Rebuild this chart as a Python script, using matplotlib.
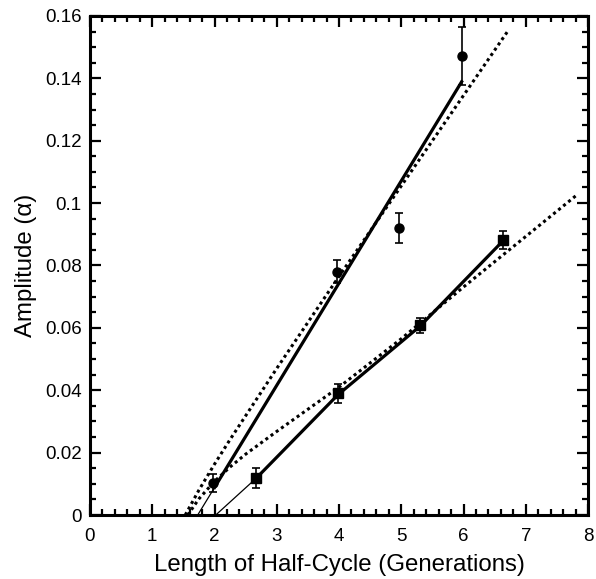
import numpy as np
import matplotlib
matplotlib.use("Agg")
import matplotlib.pyplot as plt
from matplotlib.ticker import MultipleLocator

plt.rcParams['font.family'] = ['Liberation Sans', 'DejaVu Sans']

# Circles (data + error)
circ_x = [1.98, 3.96, 4.96, 5.97]
circ_y = [0.0103, 0.0780, 0.0919, 0.1471]
circ_err = [0.0028, 0.0037, 0.0048, 0.0092]

# Squares (data + error)
sq_x = [2.67, 3.98, 5.30, 6.63]
sq_y = [0.0118, 0.0390, 0.0609, 0.0881]
sq_err = [0.0032, 0.0030, 0.0024, 0.0028]

# Solid fit lines (thin extension to zero, then thick part)
circ_fit_thin_x = [1.73, 2.0]
circ_fit_thin_y = [0.0, 0.0088]
circ_fit_x = [2.0, 5.97]
circ_fit_y = [0.0088, 0.1389]

sq_fit_thin_x = [2.02, 2.67]
sq_fit_thin_y = [0.0, 0.0118]
sq_fit_x = [2.67, 3.98, 5.30, 6.63]
sq_fit_y = [0.0118, 0.0385, 0.0605, 0.0878]

# Dotted model curves
circ_model_x = [1.53, 1.75, 2.0, 2.25, 2.5, 3.0, 4.0, 5.0, 6.0, 6.7]
circ_model_y = [0.0, 0.0080, 0.0163, 0.0242, 0.0318, 0.0470, 0.0765, 0.1055, 0.1345, 0.1548]
sq_model_x = [1.57, 1.75, 2.0, 2.25, 2.5, 3.0, 4.0, 5.0, 6.0, 7.0, 7.82]
sq_model_y = [0.0, 0.0052, 0.0108, 0.0154, 0.0195, 0.0268, 0.0410, 0.0565, 0.0731, 0.0893, 0.1026]

yticks = [0, 0.02, 0.04, 0.06, 0.08, 0.1, 0.12, 0.14, 0.16]
yticklabels = ["0", "0.02", "0.04", "0.06", "0.08", "0.1", "0.12", "0.14", "0.16"]

fig = plt.figure(figsize=(5.96, 5.79), dpi=100)
ax = fig.add_axes([0.151, 0.1105, 0.8356, 0.862])

ax.plot(circ_model_x, circ_model_y, color="black", lw=2.2, linestyle=(0, (1, 1.1)))
ax.plot(sq_model_x, sq_model_y, color="black", lw=2.2, linestyle=(0, (1, 1.1)))

ax.plot(circ_fit_thin_x, circ_fit_thin_y, color="black", lw=0.9)
ax.plot(circ_fit_x, circ_fit_y, color="black", lw=2.3)
ax.plot(sq_fit_thin_x, sq_fit_thin_y, color="black", lw=0.9)
ax.plot(sq_fit_x, sq_fit_y, color="black", lw=2.3)

ax.errorbar(circ_x, circ_y, yerr=circ_err, fmt="o", color="black", ms=6.5,
            elinewidth=1.2, capsize=3, capthick=1.2)
ax.errorbar(sq_x, sq_y, yerr=sq_err, fmt="s", color="black", ms=6.5,
            elinewidth=1.2, capsize=3, capthick=1.2)

ax.set_xlim(0, 8)
ax.set_ylim(0, 0.16)
ax.xaxis.set_major_locator(MultipleLocator(1))
ax.xaxis.set_minor_locator(MultipleLocator(0.2))
ax.set_yticks(yticks)
ax.set_yticklabels(yticklabels)
ax.yaxis.set_minor_locator(MultipleLocator(0.005))

ax.tick_params(which="both", direction="in", top=True, right=True, width=1.6)
ax.tick_params(which="major", length=8, labelsize=13.5, pad=6)
ax.tick_params(axis="x", which="major", pad=9)
ax.tick_params(which="minor", length=4)
for s in ax.spines.values():
    s.set_linewidth(2.2)

ax.set_xlabel("Length of Half-Cycle (Generations)", fontsize=17.3, labelpad=7)
ax.set_ylabel("Amplitude (α)", fontsize=17.3, labelpad=6)

fig.savefig("out.png", dpi=100)
